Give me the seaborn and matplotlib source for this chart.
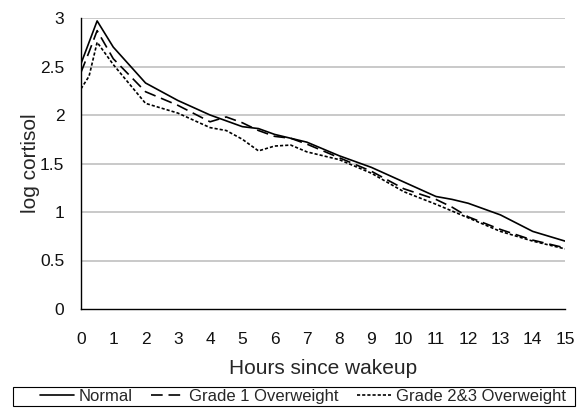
import matplotlib
matplotlib.use("Agg")
import matplotlib.pyplot as plt
from matplotlib.patches import Rectangle
import seaborn as sns
import pandas as pd

hours = [0, 0.25, 0.5, 1, 2, 3, 4, 4.5, 5, 5.5, 6, 6.5, 7, 8, 9, 10, 11, 11.5, 12, 13, 14, 15]
normal = [2.53, 2.75, 2.97, 2.70, 2.33, 2.15, 2.00, 1.94, 1.88, 1.86, 1.80, 1.76, 1.72, 1.58, 1.46, 1.31, 1.16, 1.13, 1.09, 0.97, 0.80, 0.70]
grade1 = [2.44, 2.65, 2.87, 2.58, 2.24, 2.10, 1.93, 1.98, 1.92, 1.84, 1.78, 1.76, 1.70, 1.56, 1.42, 1.24, 1.13, 1.05, 0.95, 0.82, 0.71, 0.63]
grade23 = [2.27, 2.40, 2.75, 2.52, 2.12, 2.02, 1.87, 1.84, 1.75, 1.63, 1.68, 1.69, 1.62, 1.54, 1.40, 1.21, 1.08, 1.01, 0.94, 0.80, 0.70, 0.62]
series_names = ["Normal", "Grade 1 Overweight", "Grade 2&3 Overweight"]
x_ticks = list(range(0, 16))
y_ticks = [0, 0.5, 1, 1.5, 2, 2.5, 3]
y_tick_labels = ["0", "0.5", "1", "1.5", "2", "2.5", "3"]

rows = []
for name, vals in zip(series_names, [normal, grade1, grade23]):
    for h, v in zip(hours, vals):
        rows.append({"hours": h, "value": v, "group": name})
df = pd.DataFrame(rows)

sns.set_style("white")
plt.rcParams["font.family"] = ["Liberation Sans", "DejaVu Sans"]

W, H = 577, 411
fig = plt.figure(figsize=(W/100, H/100), dpi=100)
ax = fig.add_axes([81/W, 1-309/H, (565-81)/W, (309-18)/H])

for y in y_ticks[1:]:
    ax.axhline(y, color="#c0c0c0", lw=1.2, zorder=0)

sns.lineplot(data=df, x="hours", y="value", hue="group", style="group",
             palette={n: "black" for n in series_names},
             dashes={"Normal": "", "Grade 1 Overweight": (7, 3.5), "Grade 2&3 Overweight": (1.9, 1.2)},
             linewidth=1.2, ax=ax, legend=True, zorder=3)

handles, labels = ax.get_legend_handles_labels()
ax.get_legend().remove()

ax.set_xlim(0, 15)
ax.set_ylim(0, 3)
ax.set_xticks(x_ticks)
ax.set_yticks(y_ticks)
ax.set_yticklabels(y_tick_labels)
for s in ["top", "right"]:
    ax.spines[s].set_visible(False)
for s in ["left", "bottom"]:
    ax.spines[s].set_color("black")
    ax.spines[s].set_linewidth(1.0)
ax.tick_params(axis="both", which="major", direction="out", length=4, width=1,
               color="black", labelsize=12.5, labelcolor="#111111")
ax.tick_params(axis="x", pad=12.5)
ax.tick_params(axis="y", pad=8)
ax.set_xlabel("Hours since wakeup", fontsize=15, labelpad=9)
ax.set_ylabel("log cortisol", fontsize=15, labelpad=0)

leg = fig.legend(handles, labels, loc="center", ncol=3,
                 bbox_to_anchor=(303/W, 1-396.5/H), fontsize=12,
                 frameon=False,
                 handlelength=2.0, columnspacing=1.1, handletextpad=0.3,
                 borderpad=0.0, borderaxespad=0)

fig.patches.append(Rectangle((13/W, 1-406/H), (575-13)/W, 19/H,
                             transform=fig.transFigure, fill=False,
                             edgecolor="black", linewidth=0.8))

fig.savefig("out.png", dpi=100)
